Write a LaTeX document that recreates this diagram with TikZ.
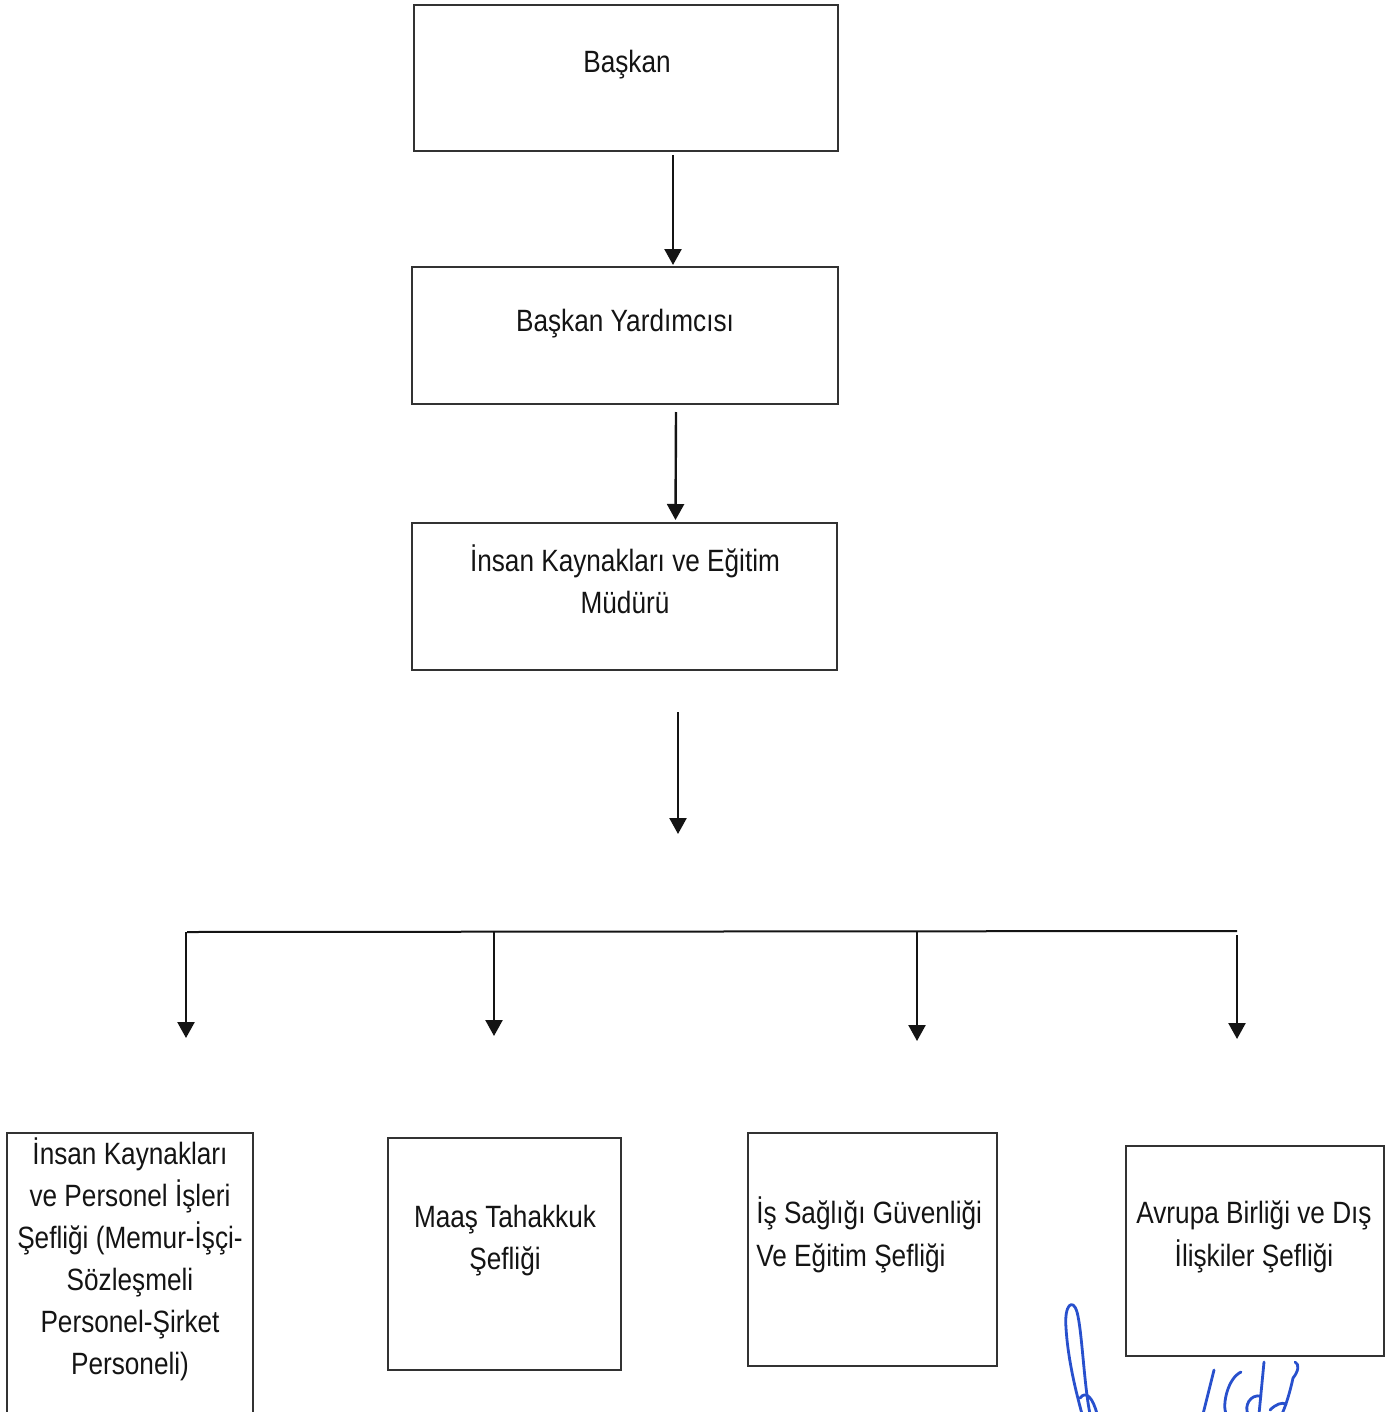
\documentclass[tikz,border=0pt]{standalone}
\usepackage{fontspec}
\setmainfont{Liberation Sans}[FakeStretch=0.85]
\usetikzlibrary{arrows.meta,calc}
\definecolor{ink}{RGB}{20,20,20}
\definecolor{frame}{RGB}{50,50,50}
\definecolor{pen}{RGB}{40,80,205}
\begin{document}
\begin{tikzpicture}[x=0.5pt,y=-0.5pt,
  box/.style={draw=frame,line width=0.75pt,inner sep=0pt,outer sep=0pt,fill=none},
  txt/.style={anchor=base,inner sep=0pt,text=ink,font=\fontsize{15.4pt}{21pt}\selectfont},
  txtl/.style={txt,anchor=base west},
  arr/.style={draw=ink,line width=1.2pt,-{Triangle[width=8.5pt,length=8pt]}},
  bus/.style={draw=ink,line width=1pt},
  sig/.style={draw=pen,line width=1.4pt,line cap=round,line join=round}]
\useasboundingbox (0,0) rectangle (1394,1412);
\fill[white] (0,0) rectangle (1394,1412);

% top chain
\node[box,minimum width=212pt,minimum height=73pt] (b1) at (626,78) {};
\node[txt] (t1) at (627,73) {Başkan};

\node[box,minimum width=213pt,minimum height=68.5pt] (b2) at (625,335.5) {};
\node[txt] (t2) at (625,331) {Başkan Yardımcısı};

\node[box,minimum width=212.5pt,minimum height=73.5pt] (b3) at (624.5,596.5) {};
\node[txt] (t3a) at (625,571) {İnsan Kaynakları ve Eğitim};
\node[txt] (t3b) at (625,613) {Müdürü};

\draw[arr] ([xshift=23.5pt,yshift=-2pt]b1.south) -- ([xshift=24pt,yshift=1pt]b2.north);
\draw[arr] ([xshift=25.5pt,yshift=-4pt]b2.south) -- ([xshift=25.5pt,yshift=1.5pt]b3.north);

\coordinate (hub) at (678,834);
\draw[arr] ([xshift=26.75pt,yshift=-21pt]b3.south) -- (hub);

% bus
\coordinate (busL) at (187,932);
\coordinate (busR) at (1237,931);
\draw[bus] (busL) -- (busR);

\coordinate (dA) at (186,1038);
\coordinate (dB) at (494,1036);
\coordinate (dC) at (917,1041);
\coordinate (dD) at (1237,1039);
\draw[arr] (dA |- busL) -- (dA);
\draw[arr] (dB |- busL) -- (dB);
\draw[arr] (dC |- busL) -- (dC);
\draw[arr] ([yshift=-2pt]dD |- busR) -- (dD);

% bottom boxes
\node[box,minimum width=123pt,minimum height=153.5pt] (bA) at (130,1286.5) {};
\node[txt] (tA1) at (130,1164) {İnsan Kaynakları};
\node[txt] (tA2) at (130,1206) {ve Personel İşleri};
\node[txt] (tA3) at (130,1248) {Şefliği (Memur-İşçi-};
\node[txt] (tA4) at (130,1290) {Sözleşmeli};
\node[txt] (tA5) at (130,1332) {Personel-Şirket};
\node[txt] (tA6) at (130,1374) {Personeli)};

\node[box,minimum width=116.5pt,minimum height=116pt] (bB) at (504.5,1254) {};
\node[txt] (tB1) at (505,1227) {Maaş Tahakkuk};
\node[txt] (tB2) at (505,1269) {Şefliği};

\node[box,minimum width=124.5pt,minimum height=116.5pt] (bC) at (872.5,1249.5) {};
\node[txtl] (tC1) at (756,1223) {İş Sağlığı Güvenliği};
\node[txtl] (tC2) at (756,1266) {Ve Eğitim Şefliği};

\node[box,minimum width=129pt,minimum height=105pt] (bD) at (1255,1251) {};
\node[txt] (tD1) at (1254,1223) {Avrupa Birliği ve Dış};
\node[txt] (tD2) at (1254,1266) {İlişkiler Şefliği};

% signature (partial, cut by page edge)
\draw[sig] (1090,1414) .. controls (1084,1385) and (1082,1330) .. (1077,1312)
  .. controls (1073,1298) and (1064,1304) .. (1066,1328)
  .. controls (1068,1360) and (1076,1392) .. (1082,1414);
\draw[sig] (1080,1398) .. controls (1086,1390) and (1093,1398) .. (1097,1414);
\draw[sig] (1214,1370) -- (1203,1414);
\draw[sig] (1241,1372) .. controls (1228,1378) and (1222,1404) .. (1226,1414);
\draw[sig] (1264,1362) -- (1259,1414);
\draw[sig] (1261,1396) .. controls (1250,1394) and (1244,1406) .. (1248,1414);
\draw[sig] (1295,1362) .. controls (1300,1364) and (1298,1372) .. (1293,1378)
  .. controls (1290,1392) and (1286,1405) .. (1282,1414);
\draw[sig] (1270,1410) .. controls (1276,1404) and (1282,1402) .. (1286,1404);
\end{tikzpicture}
\end{document}
